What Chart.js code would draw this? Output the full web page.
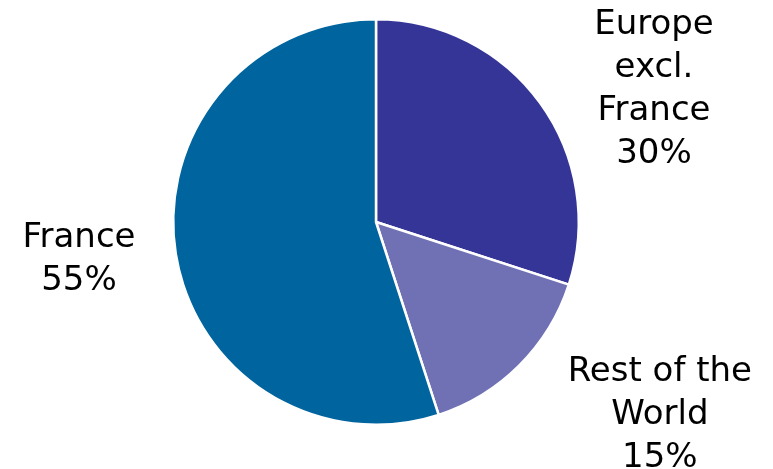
<!DOCTYPE html>
<html>
<head>
<meta charset="utf-8">
<script src="https://cdn.jsdelivr.net/npm/chart.js@4"></script>
<style>
  html, body { margin: 0; padding: 0; background: #fff; }
  #wrap { width: 773px; height: 469px; }
</style>
</head>
<body>
<div id="wrap"><canvas id="regionChart"></canvas></div>
<script>
// data, clockwise from 12 o'clock
const regions = ["Europe excl. France", "Rest of the World", "France"];
const shares = [30, 15, 55];
const sliceColors = ["#353598", "#7071b4", "#00649e"];
// label lines for each slice (last line is the share)
const labelLines = [
    ["Europe", "excl.", "France"],
    ["Rest of the", "World"],
    ["France"]
];
// label anchor, in units of the pie radius from its centre
const labelAnchors = [
    { dx: 1.371, dy: -0.926 },
    { dx: 1.40, dy: 0.782 },
    { dx: -1.465, dy: 0.124 }
];

// draw the outside labels next to each slice
const outsideLabels = {
    id: "outsideLabels",
    afterDatasetsDraw(chart) {
        const ctx = chart.ctx;
        const arcs = chart.getDatasetMeta(0).data;
        ctx.save();
        ctx.font = "34px 'DejaVu Sans'";
        ctx.fillStyle = "#000";
        ctx.textAlign = "center";
        ctx.textBaseline = "alphabetic";
        arcs.forEach((arc, i) => {
            const r = arc.outerRadius;
            const x = arc.x + labelAnchors[i].dx * r;
            let y = arc.y + labelAnchors[i].dy * r;
            const lines = labelLines[i].concat([shares[i] + "%"]);
            lines.forEach(line => {
                ctx.fillText(line, x, y);
                y += 43;
            });
        });
        ctx.restore();
    }
};

const ctx = document.getElementById("regionChart").getContext("2d");
new Chart(ctx, {
    type: "pie",
    data: {
        labels: regions,
        datasets: [{
            data: shares,
            backgroundColor: sliceColors,
            borderColor: "#ffffff",
            borderWidth: 2.5
        }]
    },
    options: {
        responsive: true,
        maintainAspectRatio: false,
        animation: false,
        layout: { padding: { top: 18, bottom: 43, left: 0, right: 21 } },
        plugins: {
            legend: { display: false },
            tooltip: { enabled: false }
        }
    },
    plugins: [outsideLabels]
});
</script>
</body>
</html>
